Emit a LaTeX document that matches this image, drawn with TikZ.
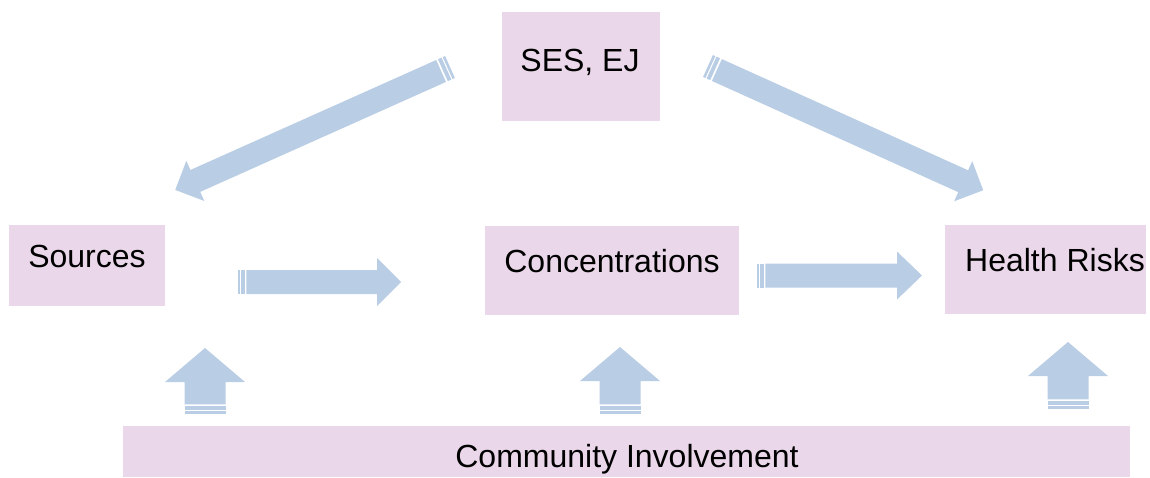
\documentclass[tikz,border=0pt]{standalone}
\usepackage{fontspec}
\setmainfont{Liberation Sans}
\definecolor{boxpink}{HTML}{EBD7EA}
\definecolor{arrowblue}{HTML}{B9CDE5}
\begin{document}
\begin{tikzpicture}[x=0.75pt,y=-0.75pt,
  box/.style={fill=boxpink, draw=none, inner sep=0pt},
  lbl/.style={font=\fontsize{24pt}{28pt}\selectfont, inner sep=0pt,
              text height=0.716em, text depth=0pt},
  % block arrow along +x: length, body half-width, head half-width,
  % head length, stripe unit
  pics/blockarrow/.style n args={5}{code={
    \fill[arrowblue] (0,-#2) rectangle (#5,#2);
    \fill[arrowblue] (1.5*#5,-#2) rectangle (3*#5,#2);
    \fill[arrowblue] (3.75*#5,-#2) -- (#1-#4,-#2) -- (#1-#4,-#3) -- (#1,0)
      -- (#1-#4,#3) -- (#1-#4,#2) -- (3.75*#5,#2) -- cycle;
  }}]
\useasboundingbox (0,0) rectangle (1150,478);

% boxes
\node[box, minimum width=118.5pt, minimum height=81.75pt] (ses) at (581,66.5) {};
\node[box, minimum width=117pt, minimum height=60.75pt] (src) at (87,265.5) {};
\node[box, minimum width=190.5pt, minimum height=66.75pt] (conc) at (612,270.5) {};
\node[box, minimum width=150.75pt, minimum height=66.75pt] (hr) at (1045.5,269.5) {};
\node[box, minimum width=755.25pt, minimum height=38.25pt] (ci) at (626.5,451.5) {};

% labels
\node[lbl] (sest) at (580,67) {SES, EJ};
\node[lbl] (srct) at (87,263) {Sources};
\node[lbl] (conct) at (612,268) {Concentrations};
\node[lbl] (hrt) at (1055,267) {Health Risks};
\node[lbl] (cit) at (627,463) {Community Involvement};

% block arrows
\pic at (450,67) [rotate=204.1] {blockarrow={301}{12}{22}{22}{2.6}};
\pic at (708,66) [rotate=-24.3] {blockarrow={302}{12}{22}{22}{2.6}};
\pic at (238,282) {blockarrow={163}{12}{24}{24}{2.2}};
\pic at (757,275.5) {blockarrow={165}{12}{24}{25}{2.2}};
\pic at (205,414) [rotate=90] {blockarrow={66}{20.5}{40}{34}{2.6}};
\pic at (620,414) [rotate=90] {blockarrow={67}{20.5}{40}{34}{2.6}};
\pic at (1068,409) [rotate=90] {blockarrow={67}{20.5}{40}{34}{2.6}};
\end{tikzpicture}
\end{document}
